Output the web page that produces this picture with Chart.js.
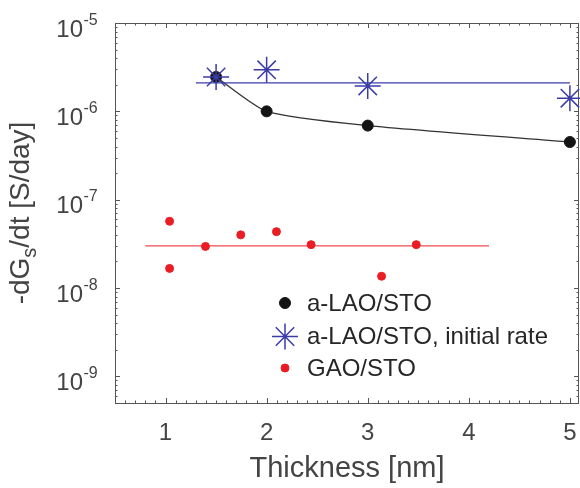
<!DOCTYPE html>
<html><head><meta charset="utf-8">
<script src="https://cdn.jsdelivr.net/npm/chart.js@4/dist/chart.umd.min.js"></script>
<style>html,body{margin:0;padding:0;background:#fff}#wrap{width:580px;height:488px;position:relative}</style>
</head><body><div id="wrap"><canvas id="c"></canvas></div>
<script>
// ---- data ----
const laoThickness = [1.5, 2, 3, 5];
const laoRate = [2.45e-6, 1.0e-6, 6.9e-7, 4.5e-7];
const initThickness = [1.5, 2, 3, 5];
const initRate = [2.45e-6, 2.95e-6, 1.94e-6, 1.41e-6];
const initFitX = [1.3, 5.0];
const initFitY = [2.1e-6, 2.1e-6];
const gaoThickness = [1.04, 1.04, 1.395, 1.744, 2.097, 2.44, 3.137, 3.48];
const gaoRate = [5.7e-8, 1.67e-8, 2.96e-8, 4.0e-8, 4.35e-8, 3.1e-8, 1.36e-8, 3.1e-8];
const gaoFitX = [0.8, 4.2];
const gaoFitY = [3.0e-8, 3.0e-8];
const xTickValues = [1, 2, 3, 4, 5];
const yTickExponents = [-9, -8, -7, -6, -5];
const legendLabels = ['a-LAO/STO', 'a-LAO/STO, initial rate', 'GAO/STO'];
const xTitle = 'Thickness [nm]';
const yTitleParts = ['-dG', 's', '/dt [S/day]'];

const pts = (xs, ys) => xs.map((x, i) => ({x, y: ys[i]}));

const BLACK = '#141414', BLUE = '#3b3da6', RED = '#ea1c24';
const AXIS = '#555555', TXT = '#444444';
const FONT = '"Liberation Sans", Arial, Helvetica, sans-serif';

const deco = {
  id: 'deco',
  beforeDatasetsDraw(chart) {
    const {ctx, chartArea: a, scales: {x, y}} = chart;
    ctx.save();
    ctx.strokeStyle = AXIS; ctx.lineWidth = 1;
    ctx.strokeRect(Math.round(a.left) + 0.5, Math.round(a.top) + 0.5,
                   Math.round(a.right - a.left) - 1, Math.round(a.bottom - a.top));
    ctx.beginPath();
    for (let v = Math.ceil(x.min * 10) / 10; v <= x.max + 1e-9; v += 0.1) {
      const vv = Math.round(v * 10) / 10;
      const px = Math.round(x.getPixelForValue(vv)) + 0.5;
      const major = Math.abs(vv - Math.round(vv)) < 1e-6;
      const L = major ? 5 : 2.5;
      ctx.moveTo(px, a.bottom); ctx.lineTo(px, a.bottom - L);
      ctx.moveTo(px, a.top); ctx.lineTo(px, a.top + L);
    }
    for (let e = -10; e <= -5; e++) {
      for (let m = 1; m <= 9; m++) {
        const v = m * Math.pow(10, e);
        if (v < y.min * 0.999 || v > y.max * 1.001) continue;
        const py = Math.round(y.getPixelForValue(v)) + 0.5;
        const L = m === 1 ? 5 : 2.5;
        ctx.moveTo(a.left, py); ctx.lineTo(a.left + L, py);
        ctx.moveTo(a.right, py); ctx.lineTo(a.right - L, py);
      }
    }
    ctx.stroke();
    ctx.restore();
  },
  afterDraw(chart) {
    const {ctx, chartArea: a, scales: {x, y}} = chart;
    ctx.save();
    ctx.fillStyle = TXT;
    ctx.font = '24px ' + FONT;
    ctx.textAlign = 'center'; ctx.textBaseline = 'alphabetic';
    xTickValues.forEach(v => ctx.fillText(String(v), x.getPixelForValue(v), 440));
    yTickExponents.forEach(e => {
      const py = y.getPixelForValue(Math.pow(10, e));
      ctx.font = '24px ' + FONT; ctx.textAlign = 'right';
      ctx.fillText('10', 83, py + 13.5);
      ctx.font = '16px ' + FONT; ctx.textAlign = 'left';
      ctx.fillText(String(e), 83.5, py + 1.5);
    });
    ctx.font = '29px ' + FONT; ctx.textAlign = 'center';
    ctx.fillText(xTitle, (a.left + a.right) / 2, 477);
    ctx.save();
    ctx.translate(29, (a.top + a.bottom) / 2);
    ctx.rotate(-Math.PI / 2);
    const fMain = '28px ' + FONT, fSub = '20px ' + FONT;
    ctx.font = fMain; const w0 = ctx.measureText(yTitleParts[0]).width;
    const w2 = ctx.measureText(yTitleParts[2]).width;
    ctx.font = fSub; const w1 = ctx.measureText(yTitleParts[1]).width;
    let sx = -(w0 + w1 + w2) / 2;
    ctx.textAlign = 'left';
    ctx.font = fMain; ctx.fillText(yTitleParts[0], sx, 0); sx += w0;
    ctx.font = fSub; ctx.fillText(yTitleParts[1], sx, 7); sx += w1;
    ctx.font = fMain; ctx.fillText(yTitleParts[2], sx, 0);
    ctx.restore();
    const lx = 285, ly = [303, 336.5, 368], tx = 307;
    const ds = chart.data.datasets;
    const legendDs = [ds[2], ds[0], ds[3]];
    legendDs.forEach((d, i) => {
      ctx.fillStyle = d.pointBackgroundColor; ctx.strokeStyle = d.pointBorderColor;
      ctx.lineWidth = d.pointBorderWidth;
      Chart.helpers.drawPoint(ctx, {pointStyle: d.pointStyle, radius: d.pointRadius, rotation: 0, borderWidth: d.pointBorderWidth}, lx, ly[i]);
    });
    ctx.fillStyle = '#262626';
    ctx.font = '24px ' + FONT; ctx.textAlign = 'left'; ctx.textBaseline = 'middle';
    legendLabels.forEach((t, i) => ctx.fillText(t, tx, ly[i] + 1));
    ctx.restore();
  }
};

new Chart(document.getElementById('c'), {
  type: 'scatter',
  data: {
    datasets: [
      { label: 'a-LAO/STO, initial rate', data: pts(initThickness, initRate), showLine: false,
        pointStyle: 'star', pointRadius: 13, pointBorderWidth: 1.5,
        pointBorderColor: BLUE, pointBackgroundColor: BLUE, clip: false },
      { label: 'initial fit', data: pts(initFitX, initFitY), showLine: true, borderColor: BLUE,
        borderWidth: 1.3, pointRadius: 0, clip: false },
      { label: 'a-LAO/STO', data: pts(laoThickness, laoRate), showLine: true,
        borderColor: '#333333', borderWidth: 1.3, tension: 0.2,
        pointStyle: 'circle', pointRadius: 5.5, pointBorderWidth: 1,
        pointBorderColor: BLACK, pointBackgroundColor: BLACK, clip: false },
      { label: 'GAO/STO', data: pts(gaoThickness, gaoRate), showLine: false,
        pointStyle: 'circle', pointRadius: 4, pointBorderWidth: 1,
        pointBorderColor: RED, pointBackgroundColor: RED, clip: false },
      { label: 'GAO fit', data: pts(gaoFitX, gaoFitY), showLine: true, borderColor: RED,
        borderWidth: 1, pointRadius: 0, clip: false }
    ]
  },
  options: {
    responsive: true, maintainAspectRatio: false, animation: false,
    layout: { autoPadding: false, padding: { left: 115, right: 1, top: 23, bottom: 85 } },
    plugins: { legend: { display: false }, tooltip: { enabled: false } },
    scales: {
      x: { type: 'linear', min: 0.5, max: 5.09,
           ticks: { display: false }, grid: { display: false, drawTicks: false },
           border: { display: false }, title: { display: false } },
      y: { type: 'logarithmic', min: 5e-10, max: 1e-5,
           ticks: { display: false }, grid: { display: false, drawTicks: false },
           border: { display: false }, title: { display: false } }
    }
  },
  plugins: [deco]
});
</script></body></html>
